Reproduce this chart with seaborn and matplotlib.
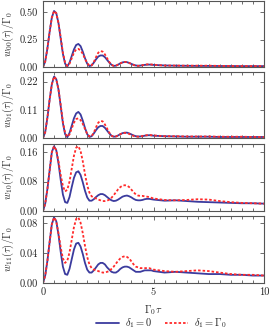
import numpy as np
import pandas as pd
import seaborn as sns
import matplotlib
matplotlib.use("Agg")
import matplotlib.pyplot as plt
from matplotlib.ticker import FixedLocator, MultipleLocator, FormatStrFormatter
from matplotlib.lines import Line2D

# ---------------- data ----------------
t_vals = [0.0, 0.1, 0.2, 0.3, 0.4, 0.5, 0.6, 0.7, 0.8, 0.9,
          1.0, 1.1, 1.2, 1.3, 1.4, 1.5, 1.6, 1.7, 1.8, 1.9,
          2.0, 2.1, 2.2, 2.3, 2.4, 2.5, 2.6, 2.7, 2.8, 2.9,
          3.0, 3.1, 3.2, 3.3, 3.4, 3.5, 3.6, 3.7, 3.8, 3.9,
          4.0, 4.1, 4.2, 4.3, 4.4, 4.5, 4.6, 4.7, 4.8, 4.9,
          5.0, 5.5, 6.0, 6.5, 7.0, 7.5, 8.0, 8.5, 9.0, 9.5, 10.0]

w00_d0 = [0, 0.05, 0.17, 0.32, 0.45, 0.51, 0.49, 0.40, 0.26, 0.12,
          0.03, 0.005, 0.04, 0.10, 0.16, 0.20, 0.21, 0.19, 0.14, 0.08,
          0.03, 0.008, 0.015, 0.04, 0.07, 0.095, 0.105, 0.105, 0.09, 0.065,
          0.04, 0.02, 0.01, 0.012, 0.022, 0.033, 0.042, 0.046, 0.044, 0.037,
          0.028, 0.02, 0.014, 0.012, 0.013, 0.016, 0.019, 0.021, 0.022, 0.021,
          0.019, 0.014, 0.012, 0.011, 0.010, 0.010, 0.009, 0.009, 0.008, 0.008, 0.008]
w00_d1 = [0, 0.05, 0.17, 0.32, 0.45, 0.51, 0.49, 0.40, 0.27, 0.13,
          0.04, 0.01, 0.03, 0.08, 0.13, 0.16, 0.165, 0.15, 0.12, 0.075,
          0.035, 0.012, 0.015, 0.045, 0.09, 0.13, 0.145, 0.14, 0.115, 0.08,
          0.045, 0.02, 0.01, 0.012, 0.022, 0.033, 0.042, 0.046, 0.044, 0.037,
          0.027, 0.018, 0.012, 0.010, 0.012, 0.016, 0.021, 0.024, 0.025, 0.023,
          0.020, 0.013, 0.013, 0.012, 0.012, 0.012, 0.010, 0.009, 0.009, 0.008, 0.008]

w01_d0 = [0, 0.023, 0.08, 0.15, 0.21, 0.24, 0.23, 0.19, 0.125, 0.058,
          0.015, 0.003, 0.02, 0.048, 0.077, 0.096, 0.102, 0.092, 0.068, 0.039,
          0.015, 0.004, 0.007, 0.018, 0.031, 0.042, 0.047, 0.047, 0.04, 0.029,
          0.018, 0.009, 0.005, 0.006, 0.01, 0.015, 0.019, 0.021, 0.021, 0.018,
          0.014, 0.01, 0.007, 0.006, 0.006, 0.007, 0.009, 0.01, 0.011, 0.01,
          0.009, 0.007, 0.006, 0.005, 0.005, 0.005, 0.004, 0.004, 0.004, 0.004, 0.004]
w01_d1 = [0, 0.023, 0.08, 0.15, 0.21, 0.24, 0.23, 0.19, 0.13, 0.063,
          0.02, 0.005, 0.014, 0.037, 0.06, 0.074, 0.077, 0.07, 0.055, 0.035,
          0.016, 0.006, 0.007, 0.021, 0.042, 0.06, 0.067, 0.065, 0.053, 0.037,
          0.021, 0.009, 0.005, 0.006, 0.01, 0.015, 0.019, 0.02, 0.019, 0.016,
          0.012, 0.008, 0.006, 0.005, 0.006, 0.008, 0.01, 0.011, 0.012, 0.011,
          0.01, 0.007, 0.007, 0.006, 0.006, 0.006, 0.005, 0.005, 0.005, 0.004, 0.004]

w10_d0 = [0, 0.02, 0.06, 0.11, 0.16, 0.176, 0.165, 0.13, 0.085, 0.045,
          0.024, 0.022, 0.038, 0.065, 0.09, 0.105, 0.108, 0.098, 0.078, 0.055,
          0.037, 0.028, 0.028, 0.032, 0.038, 0.043, 0.046, 0.046, 0.043, 0.038,
          0.033, 0.029, 0.027, 0.028, 0.031, 0.035, 0.039, 0.041, 0.042, 0.040,
          0.037, 0.033, 0.030, 0.029, 0.029, 0.030, 0.032, 0.033, 0.033, 0.032,
          0.031, 0.028, 0.029, 0.027, 0.025, 0.024, 0.023, 0.022, 0.021, 0.021, 0.020]
w10_d1 = [0, 0.02, 0.06, 0.11, 0.16, 0.176, 0.165, 0.135, 0.098, 0.068,
          0.053, 0.058, 0.08, 0.115, 0.15, 0.172, 0.176, 0.163, 0.135, 0.10,
          0.07, 0.05, 0.04, 0.036, 0.034, 0.031, 0.029, 0.027, 0.027, 0.028,
          0.031, 0.036, 0.043, 0.051, 0.059, 0.065, 0.069, 0.070, 0.069, 0.065,
          0.058, 0.051, 0.045, 0.042, 0.041, 0.041, 0.040, 0.039, 0.038, 0.036,
          0.034, 0.030, 0.029, 0.030, 0.032, 0.031, 0.027, 0.024, 0.022, 0.021, 0.020]

w11_d0 = [0, 0.01, 0.03, 0.055, 0.079, 0.088, 0.083, 0.065, 0.042, 0.022,
          0.012, 0.011, 0.019, 0.032, 0.045, 0.053, 0.054, 0.049, 0.039, 0.027,
          0.018, 0.014, 0.014, 0.017, 0.021, 0.025, 0.027, 0.027, 0.025, 0.021,
          0.018, 0.015, 0.014, 0.014, 0.016, 0.019, 0.021, 0.022, 0.022, 0.021,
          0.019, 0.017, 0.015, 0.015, 0.015, 0.016, 0.017, 0.017, 0.017, 0.017,
          0.016, 0.014, 0.015, 0.014, 0.013, 0.012, 0.012, 0.011, 0.011, 0.010, 0.010]
w11_d1 = [0, 0.01, 0.03, 0.055, 0.079, 0.088, 0.083, 0.067, 0.048, 0.033,
          0.027, 0.03, 0.041, 0.058, 0.075, 0.086, 0.088, 0.081, 0.067, 0.05,
          0.035, 0.025, 0.02, 0.018, 0.017, 0.016, 0.015, 0.014, 0.014, 0.015,
          0.016, 0.019, 0.022, 0.026, 0.03, 0.033, 0.035, 0.036, 0.035, 0.033,
          0.029, 0.025, 0.022, 0.021, 0.02, 0.02, 0.02, 0.02, 0.02, 0.019,
          0.018, 0.016, 0.015, 0.016, 0.017, 0.016, 0.014, 0.012, 0.011, 0.011, 0.010]

ylabels = [r"$w_{00}(\tau)/\Gamma_0$", r"$w_{01}(\tau)/\Gamma_0$",
           r"$w_{10}(\tau)/\Gamma_0$", r"$w_{11}(\tau)/\Gamma_0$"]
yticks = [[0.0, 0.25, 0.50], [0.0, 0.11, 0.22], [0.0, 0.08, 0.16], [0.0, 0.04, 0.08]]
ytops = [0.605, 0.258, 0.182, 0.090]
series_labels = [r"$\delta_1 = 0$", r"$\delta_1 = \Gamma_0$"]
xticks = [0, 5, 10]
xlabel = r"$\Gamma_0\tau$"

# ---------------- style ----------------
sns.set_style("ticks")
plt.rcParams["font.family"] = "serif"
plt.rcParams["font.serif"] = ["cmr10", "DejaVu Serif"]
plt.rcParams["mathtext.fontset"] = "cm"
plt.rcParams["axes.formatter.use_mathtext"] = True

BLUE = "#3b3b9e"
RED = "#ff2a2a"
FS = 7.5

fig = plt.figure(figsize=(2.69, 3.32), dpi=100)
left, right = 43 / 269, 264 / 269
panels_px = [(0.5, 67), (72, 138), (144, 211), (216, 283)]

data_pairs = [(w00_d0, w00_d1), (w01_d0, w01_d1), (w10_d0, w10_d1), (w11_d0, w11_d1)]

axes = []
for i, ((top_px, bot_px), (d0, d1)) in enumerate(zip(panels_px, data_pairs)):
    b = 1 - bot_px / 332
    h = (bot_px - top_px) / 332
    ax = fig.add_axes([left, b, right - left, h])
    df = pd.DataFrame({"t": t_vals * 2,
                       "w": list(d0) + list(d1),
                       "case": [series_labels[0]] * len(t_vals) + [series_labels[1]] * len(t_vals)})
    sns.lineplot(data=df, x="t", y="w", hue="case", style="case",
                 palette=[BLUE, RED], dashes=[(1, 0), (1.4, 1.1)],
                 linewidth=1.3, ax=ax, legend=False, sort=False)
    ax.set_xlim(0, 10)
    ax.set_ylim(0, ytops[i])
    ax.yaxis.set_major_locator(FixedLocator(yticks[i]))
    ax.yaxis.set_major_formatter(FormatStrFormatter("%.2f"))
    ax.xaxis.set_major_locator(FixedLocator(xticks))
    ax.xaxis.set_minor_locator(MultipleLocator(0.5))
    ax.tick_params(which="both", direction="in", top=True, right=True,
                   labelsize=FS, color="#555555", width=0.6)
    ax.tick_params(which="major", length=3)
    ax.tick_params(which="minor", length=2)
    for s in ax.spines.values():
        s.set_color("#555555")
        s.set_linewidth(0.8)
    ax.set_ylabel(ylabels[i], fontsize=FS, labelpad=2)
    ax.set_xlabel("")
    if i < 3:
        ax.set_xticklabels([])
    else:
        ax.set_xticklabels([str(x) for x in xticks])
        ax.set_xlabel(xlabel, fontsize=FS, labelpad=4)
    axes.append(ax)

for ax in axes:
    ax.yaxis.set_label_coords(-0.12, 0.5)

handles = [Line2D([], [], color=BLUE, lw=1.3),
           Line2D([], [], color=RED, lw=1.3, dashes=(1.4, 1.1))]
fig.legend(handles, series_labels, loc="center", bbox_to_anchor=(0.6, 0.027),
           ncol=2, frameon=False, fontsize=FS, handlelength=2.2,
           columnspacing=1.2, handletextpad=0.6, borderaxespad=0)

fig.savefig("out.png", dpi=100)
